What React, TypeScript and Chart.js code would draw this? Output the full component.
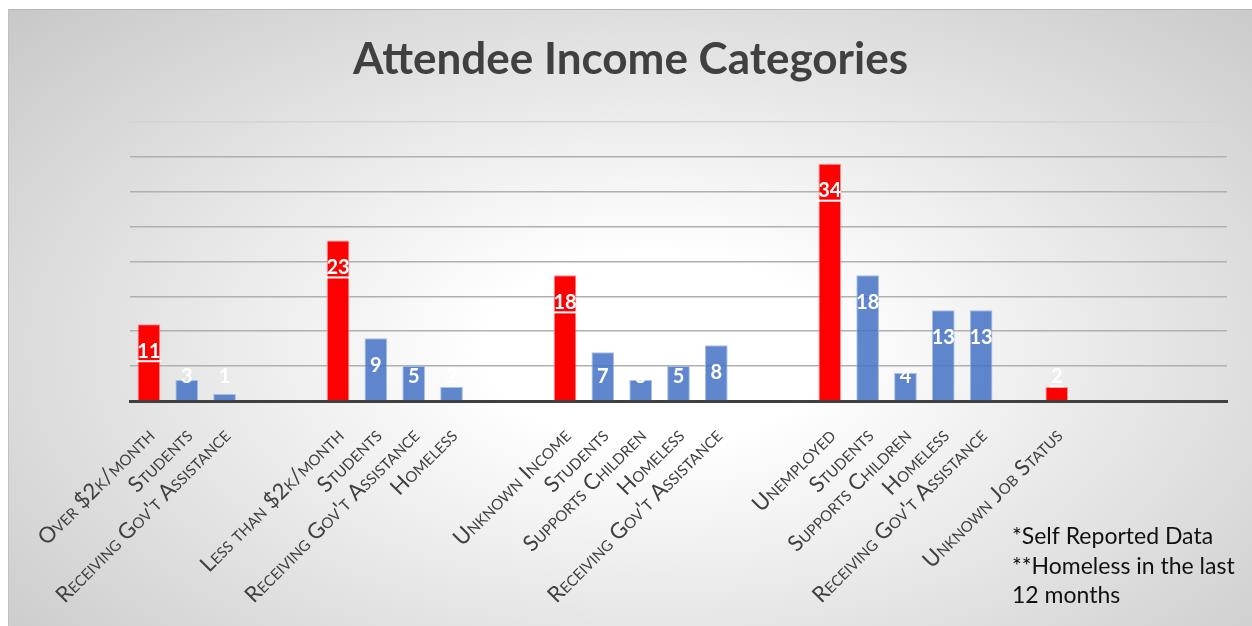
import React, { useEffect, useRef } from "react";
import { Chart, registerables } from "chart.js";

Chart.register(...registerables);

const categories: string[] = [
  "Over $2k/month", "Students", "Receiving Gov't Assistance", "", "",
  "Less than $2k/month", "Students", "Receiving Gov't Assistance", "Homeless", "", "",
  "Unknown Income", "Students", "Supports Children", "Homeless", "Receiving Gov't Assistance", "", "",
  "Unemployed", "Students", "Supports Children", "Homeless", "Receiving Gov't Assistance", "",
  "Unknown Job Status", "", "", "", "",
];

const groupValues: (number | null)[] = [
  11, null, null, null, null,
  23, null, null, null, null, null,
  18, null, null, null, null, null, null,
  34, null, null, null, null, null,
  2, null, null, null, null,
];

const detailValues: (number | null)[] = [
  null, 3, 1, null, null,
  null, 9, 5, 2, null, null,
  null, 7, 3, 5, 8, null, null,
  null, 18, 4, 13, 13, null,
  null, null, null, null, null,
];

const titleText = "Attendee Income Categories";
const footnotes: string[] = ["*Self Reported Data", "**Homeless in the last", "12 months"];
const yMax = 40;
const yStep = 5;

const labelsPlugin = {
  id: "customLabels",
  afterDraw(chart: any) {
    const ctx = chart.ctx;
    const xScale = chart.scales.x;
    const area = chart.chartArea;
    // category labels (small caps, rotated)
    ctx.save();
    ctx.fillStyle = "#404040";
    ctx.font = "small-caps 22px Lato";
    try { (ctx as any).fontVariantCaps = "small-caps"; } catch (e) {}
    ctx.textAlign = "right";
    ctx.textBaseline = "middle";
    categories.forEach((c, i) => {
      if (!c) return;
      const x = xScale.getPixelForValue(i);
      ctx.save();
      ctx.translate(x + 2, area.bottom + 31);
      ctx.rotate(-Math.PI / 4);
      ctx.fillText(c, 0, 0);
      ctx.restore();
    });
    ctx.restore();

    // footnotes
    ctx.save();
    ctx.fillStyle = "#111111";
    ctx.font = "23px Lato";
    ctx.textAlign = "left";
    ctx.textBaseline = "alphabetic";
    footnotes.forEach((t, i) => {
      ctx.fillText(t, 1003, 534 + i * 29.5);
    });
    ctx.restore();
  },
  afterDatasetsDraw(chart: any) {
    const ctx = chart.ctx;
    ctx.save();
    ctx.fillStyle = "#ffffff";
    ctx.font = "bold 20px Lato";
    ctx.textAlign = "center";
    ctx.textBaseline = "middle";
    chart.data.datasets.forEach((ds: any, di: number) => {
      const meta = chart.getDatasetMeta(di);
      meta.data.forEach((el: any, i: number) => {
        const v = ds.data[i];
        if (v === null || v === undefined) return;
        const cy = Math.min(el.y + 27, el.base - 24);
        const txt = String(v);
        ctx.fillText(txt, el.x, cy);
        if (di === 0) {
          const w = ctx.measureText(txt).width;
          ctx.fillRect(el.x - w / 2 - 1, cy + 9, w + 2, 2);
        }
      });
    });
    ctx.restore();
  },
};

export default function App() {
  const canvasRef = useRef<HTMLCanvasElement | null>(null);

  useEffect(() => {
    if (!canvasRef.current) return;
    const chart = new Chart(canvasRef.current, {
      type: "bar",
      data: {
        labels: categories,
        datasets: [
          {
            label: "Income / Job Status",
            data: groupValues as any,
            backgroundColor: "#ff0000",
            borderColor: "rgba(255,140,140,0.9)",
            borderWidth: 1,
            grouped: false,
            categoryPercentage: 1,
            barPercentage: 0.6,
          },
          {
            label: "Detail",
            data: detailValues as any,
            backgroundColor: "rgba(68,114,196,0.85)",
            borderColor: "rgba(160,185,230,0.9)",
            borderWidth: 1,
            grouped: false,
            categoryPercentage: 1,
            barPercentage: 0.6,
          },
        ],
      },
      options: {
        animation: false,
        responsive: true,
        maintainAspectRatio: false,
        layout: { padding: { left: 25, right: 25, top: 0, bottom: 225 } },
        plugins: {
          legend: { display: false },
          tooltip: { enabled: false },
          title: {
            display: true,
            text: titleText,
            color: "#404040",
            font: { family: "Lato", size: 44, weight: "bold" },
            padding: { top: 23, bottom: 36 },
          },
        },
        scales: {
          x: {
            ticks: { display: false },
            grid: { display: false, drawTicks: false },
            border: { display: true, color: "#404040", width: 3 },
          },
          y: {
            min: 0,
            max: yMax,
            ticks: { display: false, stepSize: yStep },
            afterFit: (scale: any) => { scale.width = 96; },
            grid: {
              drawTicks: false,
              color: (c: any) => (c.tick && c.tick.value === yMax ? "#d4d4d4" : "#b0b0b0"),
              lineWidth: 1.5,
            },
            border: { display: false },
          },
        },
      },
      plugins: [labelsPlugin],
    });
    return () => chart.destroy();
  }, []);

  return (
    <div
      style={{
        position: "fixed",
        left: 8,
        top: 9,
        right: 0,
        bottom: 0,
        background:
          "radial-gradient(ellipse 75% 85% at 52% 55%, #ffffff 0%, #ffffff 18%, #c4c4c4 100%)",
        borderTop: "1px solid #b8b8b8",
        borderLeft: "1px solid #c0c0c0",
        boxSizing: "border-box",
      }}
    >
      <canvas ref={canvasRef} style={{ display: "block", width: "100%", height: "100%" }} />
    </div>
  );
}
